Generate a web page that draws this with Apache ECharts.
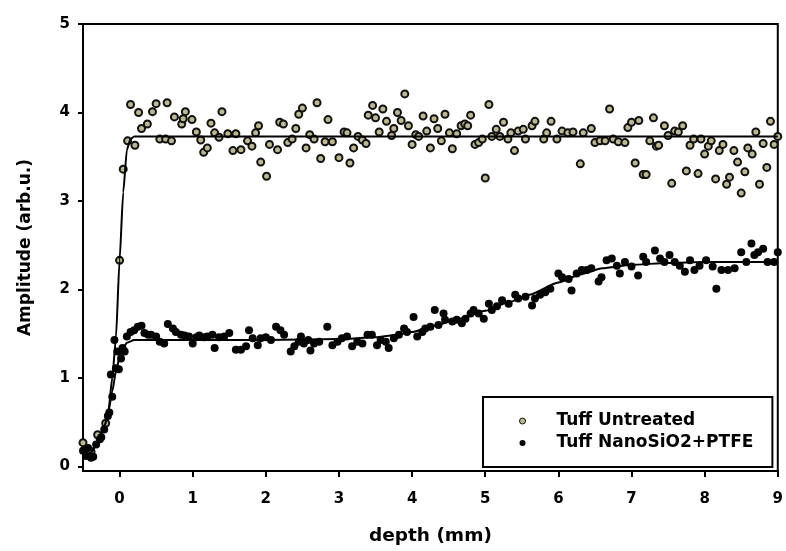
<!DOCTYPE html>
<html>
<head>
<meta charset="utf-8">
<script src="https://cdn.jsdelivr.net/npm/echarts/dist/echarts.min.js"></script>
<style>
  html, body { margin: 0; padding: 0; background: #fff; }
  #chart { width: 786px; height: 551px; }
</style>
</head>
<body>
<div id="chart"></div>
<script>
// Measured amplitude vs. depth, [depth (mm), amplitude (arb.u.)]
const untreated = [
  [-0.5,0.27],[-0.39,0.17],[-0.3,0.36],[-0.19,0.49],[0,2.33],[0.05,3.36],[0.11,3.68],[0.15,4.09],
  [0.21,3.63],[0.26,4.0],[0.30,3.82],[0.38,3.87],[0.45,4.01],[0.5,4.10],[0.55,3.70],[0.63,3.70],
  [0.65,4.11],[0.71,3.68],[0.75,3.95],[0.85,3.87],[0.87,3.93],[0.90,4.01],[0.99,3.92],[1.05,3.78],
  [1.11,3.69],[1.15,3.55],[1.2,3.60],[1.25,3.88],[1.30,3.77],[1.36,3.72],[1.40,4.01],[1.48,3.76],
  [1.55,3.57],[1.59,3.76],[1.66,3.58],[1.75,3.68],[1.81,3.62],[1.86,3.77],[1.90,3.85],[1.93,3.44],
  [2.01,3.28],[2.05,3.64],[2.16,3.58],[2.19,3.89],[2.24,3.87],[2.30,3.66],[2.36,3.70],[2.41,3.82],
  [2.45,3.98],[2.50,4.05],[2.55,3.60],[2.60,3.75],[2.66,3.70],[2.70,4.11],[2.75,3.48],[2.81,3.67],
  [2.85,3.92],[2.91,3.67],[3.0,3.49],[3.07,3.78],[3.11,3.77],[3.15,3.43],[3.20,3.60],[3.26,3.73],
  [3.32,3.69],[3.37,3.65],[3.40,3.97],[3.46,4.08],[3.50,3.94],[3.55,3.78],[3.60,4.04],[3.65,3.90],
  [3.72,3.74],[3.75,3.82],[3.80,4.0],[3.85,3.91],[3.90,4.21],[3.95,3.85],[4.0,3.64],[4.05,3.75],
  [4.09,3.73],[4.15,3.96],[4.20,3.79],[4.25,3.60],[4.30,3.93],[4.35,3.82],[4.40,3.68],[4.45,3.98],
  [4.51,3.77],[4.55,3.59],[4.61,3.76],[4.67,3.85],[4.72,3.87],[4.76,3.85],[4.80,3.97],[4.86,3.64],
  [4.91,3.66],[4.96,3.70],[5.0,3.26],[5.05,4.09],[5.09,3.73],[5.15,3.81],[5.20,3.73],[5.25,3.89],
  [5.31,3.70],[5.35,3.77],[5.40,3.57],[5.45,3.79],[5.52,3.81],[5.55,3.70],[5.64,3.85],[5.68,3.90],
  [5.80,3.70],[5.84,3.77],[5.90,3.90],[5.98,3.70],[6.05,3.79],[6.13,3.77],[6.20,3.78],[6.30,3.42],
  [6.34,3.77],[6.45,3.82],[6.50,3.66],[6.57,3.68],[6.64,3.68],[6.70,4.04],[6.75,3.70],[6.82,3.67],
  [6.91,3.66],[6.95,3.83],[7.0,3.89],[7.05,3.43],[7.1,3.91],[7.16,3.30],[7.20,3.30],[7.25,3.68],
  [7.30,3.94],[7.34,3.62],[7.37,3.63],[7.45,3.85],[7.50,3.74],[7.55,3.20],[7.59,3.79],[7.64,3.78],
  [7.70,3.85],[7.75,3.34],[7.80,3.63],[7.85,3.70],[7.91,3.31],[7.95,3.70],[8.0,3.53],[8.05,3.62],
  [8.09,3.68],[8.15,3.25],[8.20,3.57],[8.25,3.64],[8.30,3.19],[8.34,3.27],[8.40,3.57],[8.45,3.44],
  [8.50,3.09],[8.55,3.33],[8.59,3.60],[8.65,3.53],[8.70,3.78],[8.75,3.19],[8.80,3.65],[8.85,3.38],
  [8.90,3.90],[8.95,3.64],[9.0,3.73]
];

const treated = [
  [-0.5,0.18],[-0.46,0.12],[-0.43,0.21],[-0.39,0.10],[-0.36,0.11],[-0.32,0.25],[-0.27,0.31],[-0.25,0.33],
  [-0.21,0.42],[-0.16,0.57],[-0.14,0.61],[-0.12,1.04],[-0.1,0.79],[-0.07,1.43],[-0.05,1.11],[-0.03,1.30],
  [-0.01,1.10],[0.02,1.22],[0.04,1.34],[0.07,1.30],[0.1,1.47],[0.15,1.52],[0.2,1.54],[0.25,1.58],
  [0.3,1.59],[0.34,1.51],[0.39,1.49],[0.43,1.49],[0.5,1.47],[0.55,1.41],[0.61,1.39],[0.66,1.61],
  [0.73,1.56],[0.77,1.52],[0.84,1.49],[0.89,1.48],[0.95,1.47],[1.0,1.39],[1.05,1.46],[1.09,1.48],
  [1.16,1.46],[1.20,1.47],[1.27,1.49],[1.30,1.34],[1.36,1.46],[1.43,1.47],[1.50,1.51],[1.59,1.32],
  [1.66,1.32],[1.73,1.36],[1.77,1.54],[1.82,1.45],[1.89,1.37],[1.93,1.45],[2.0,1.46],[2.07,1.43],
  [2.14,1.58],[2.20,1.54],[2.25,1.49],[2.34,1.30],[2.39,1.36],[2.45,1.41],[2.48,1.47],[2.52,1.39],
  [2.58,1.43],[2.61,1.31],[2.66,1.39],[2.73,1.41],[2.84,1.58],[2.91,1.37],[2.98,1.41],[3.04,1.45],
  [3.11,1.47],[3.18,1.36],[3.25,1.41],[3.32,1.39],[3.39,1.49],[3.45,1.49],[3.52,1.37],[3.57,1.43],
  [3.64,1.41],[3.68,1.34],[3.75,1.45],[3.82,1.49],[3.89,1.56],[3.93,1.52],[4.02,1.69],[4.07,1.47],
  [4.14,1.52],[4.18,1.56],[4.25,1.58],[4.31,1.77],[4.36,1.60],[4.43,1.73],[4.45,1.66],[4.55,1.64],
  [4.61,1.66],[4.68,1.62],[4.73,1.67],[4.80,1.73],[4.84,1.77],[4.91,1.73],[4.98,1.67],[5.05,1.84],
  [5.09,1.77],[5.16,1.81],[5.23,1.88],[5.32,1.84],[5.41,1.94],[5.45,1.90],[5.55,1.92],[5.64,1.82],
  [5.68,1.90],[5.75,1.94],[5.82,1.97],[5.89,2.01],[6.0,2.18],[6.05,2.14],[6.14,2.12],[6.18,1.99],
  [6.25,2.18],[6.32,2.22],[6.39,2.22],[6.45,2.24],[6.55,2.09],[6.59,2.14],[6.66,2.33],[6.73,2.35],
  [6.80,2.27],[6.84,2.18],[6.91,2.31],[7.0,2.26],[7.09,2.16],[7.16,2.37],[7.20,2.31],[7.32,2.44],
  [7.39,2.35],[7.45,2.31],[7.52,2.39],[7.59,2.31],[7.66,2.27],[7.73,2.20],[7.80,2.33],[7.86,2.22],
  [7.93,2.27],[8.02,2.33],[8.11,2.26],[8.16,2.01],[8.23,2.22],[8.32,2.22],[8.41,2.24],[8.50,2.42],
  [8.57,2.31],[8.64,2.52],[8.68,2.39],[8.73,2.42],[8.80,2.46],[8.86,2.31],[8.95,2.31],[9.0,2.42]
];

// Fitted curves
const untreatedFit = [
  [-0.5,0.10],[-0.4,0.15],[-0.3,0.27],[-0.2,0.47],[-0.15,0.65],[-0.1,1.0],[-0.05,1.45],
  [0,2.33],[0.05,3.1],[0.1,3.58],[0.15,3.70],[0.2,3.73],[9,3.73]
];
const treatedFit = [
  [-0.5,0.10],[-0.4,0.15],[-0.3,0.27],[-0.2,0.47],[-0.15,0.63],[-0.1,0.85],[-0.05,1.07],
  [0,1.24],[0.05,1.34],[0.1,1.40],[0.2,1.43],[1,1.43],[2,1.43],[3,1.44],[3.5,1.46],
  [3.8,1.49],[4.0,1.52],[4.3,1.59],[4.6,1.66],[5.0,1.76],[5.3,1.85],[5.6,1.94],[6.0,2.08],
  [6.3,2.17],[6.6,2.24],[7.0,2.28],[7.5,2.30],[8,2.31],[9,2.31]
];

const xTicks = [0, 1, 2, 3, 4, 5, 6, 7, 8, 9];
const yTicks = [0, 1, 2, 3, 4, 5];

const FONT = 'DejaVu Sans';
const axisText = { fontFamily: FONT, fontWeight: 'bold', fontSize: 15, color: '#000' };

const chart = echarts.init(document.getElementById('chart'), null, { renderer: 'canvas' });

chart.setOption({
  animation: false,
  backgroundColor: '#fff',
  grid: {
    left: 83, right: 6, top: 24, bottom: 77,
    show: true, borderColor: '#000', borderWidth: 2, backgroundColor: 'transparent'
  },
  xAxis: {
    type: 'value', min: -0.5, max: 9,
    name: 'depth (mm)', nameLocation: 'middle', nameGap: 56,
    nameTextStyle: { fontFamily: FONT, fontWeight: 'bold', fontSize: 18.5, color: '#000' },
    axisLine: { show: true, onZero: false, lineStyle: { color: '#000', width: 2 } },
    axisTick: { show: true, customValues: xTicks, length: 6, lineStyle: { color: '#000', width: 2 } },
    axisLabel: Object.assign({ customValues: xTicks, margin: 21 }, axisText),
    splitLine: { show: false }
  },
  yAxis: {
    type: 'value', min: -0.05, max: 5,
    name: 'Amplitude (arb.u.)', nameLocation: 'middle', nameGap: 49, nameRotate: 90,
    nameTextStyle: { fontFamily: FONT, fontWeight: 'bold', fontSize: 17, color: '#000' },
    axisLine: { show: true, onZero: false, lineStyle: { color: '#000', width: 2 } },
    axisTick: { show: true, customValues: yTicks, length: 5, lineStyle: { color: '#000', width: 2 } },
    axisLabel: Object.assign({ customValues: yTicks, margin: 13 }, axisText),
    splitLine: { show: false }
  },
  legend: {
    orient: 'vertical', left: 483, top: 397,
    padding: [15, 19, 15, 36],
    itemWidth: 58, itemHeight: 6, itemGap: 4,
    borderColor: '#000', borderWidth: 2, borderRadius: 0,
    backgroundColor: '#fff',
    textStyle: { fontFamily: FONT, fontWeight: 'bold', fontSize: 17, color: '#000', lineHeight: 18 },
    data: [
      { name: 'Tuff Untreated', itemStyle: { borderWidth: 1 } },
      { name: 'Tuff NanoSiO2+PTFE' }
    ]
  },
  series: [
    {
      name: 'Tuff Untreated', type: 'scatter', data: untreated,
      symbol: 'circle', symbolSize: 7,
      itemStyle: { color: '#bdb88f', borderColor: '#111', borderWidth: 2, opacity: 1 },
      z: 2
    },
    {
      name: 'Tuff NanoSiO2+PTFE', type: 'scatter', data: treated,
      symbol: 'circle', symbolSize: 8,
      itemStyle: { color: '#050505', opacity: 1 },
      z: 3
    },
    {
      name: 'fit-untreated', type: 'line', data: untreatedFit,
      showSymbol: false, smooth: 0.2, smoothMonotone: 'x',
      lineStyle: { color: '#000', width: 2 }, silent: true, z: 4
    },
    {
      name: 'fit-treated', type: 'line', data: treatedFit,
      showSymbol: false, smooth: 0.2, smoothMonotone: 'x',
      lineStyle: { color: '#000', width: 2 }, silent: true, z: 4
    }
  ]
});
</script>
</body>
</html>
